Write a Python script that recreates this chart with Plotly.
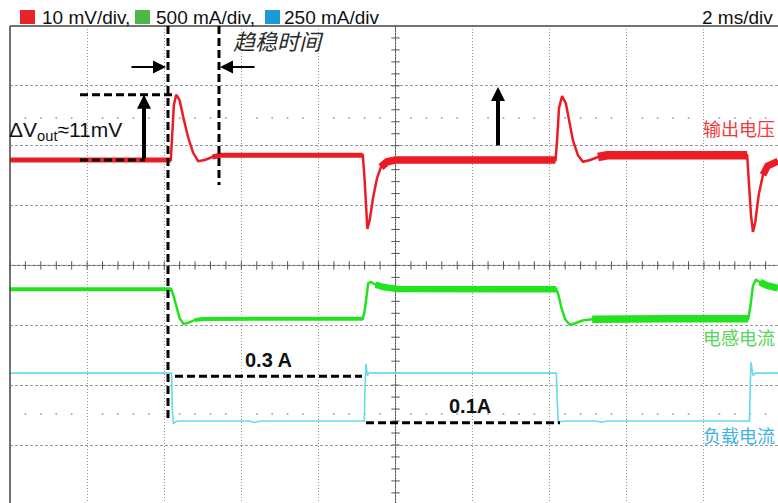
import plotly.graph_objects as go

# ---------------- channel data ----------------
# CH1: output voltage deviation (mV), 10 mV/div
t_out = [0.00, 4.17, 4.20, 4.25, 4.31, 4.40, 4.50, 4.62, 4.75, 4.88, 5.05, 5.25, 5.45,
         7.00, 9.15, 9.19, 9.24, 9.27, 9.33, 9.42, 9.52, 9.62, 9.78, 10.00, 12.00,
         14.15, 14.19, 14.24, 14.32, 14.42, 14.52, 14.60, 14.73, 14.86, 15.05, 15.25, 15.49,
         17.00, 19.12, 19.16, 19.22, 19.27, 19.33, 19.42, 19.53, 19.65, 19.92]
v_out = [0.0, 0.0, 3.3, 9.2, 10.9, 10.0, 7.0, 3.8, 1.2, -0.2, 0.0, 0.5, 0.8,
         0.8, 0.8, -2.5, -9.2, -11.5, -10.0, -6.2, -3.0, -1.2, -0.3, 0.0, 0.0,
         0.0, 3.3, 8.7, 10.7, 9.4, 6.0, 3.3, 0.8, -0.3, 0.0, 0.5, 0.8,
         0.8, 0.8, -3.3, -9.2, -12.0, -10.4, -5.8, -2.5, -1.0, -0.2]

# CH2: inductor current (A), 500 mA/div
t_il = [0.00, 4.18, 4.22, 4.30, 4.40, 4.50, 4.62, 4.80, 5.00, 7.00, 9.15, 9.20, 9.29,
        9.36, 9.48, 9.68, 10.04, 12.00, 14.17, 14.22, 14.30, 14.40, 14.52, 14.65, 14.85,
        15.10, 15.50, 17.00, 19.15, 19.20, 19.27, 19.35, 19.45, 19.65, 19.92]
i_il = [0.30, 0.30, 0.27, 0.17, 0.06, 0.012, 0.02, 0.045, 0.053, 0.055, 0.055, 0.12, 0.35,
        0.362, 0.34, 0.32, 0.303, 0.30, 0.30, 0.26, 0.15, 0.05, 0.005, 0.015, 0.04,
        0.05, 0.053, 0.055, 0.055, 0.15, 0.33, 0.38, 0.36, 0.33, 0.31]

# CH3: load current (A), 250 mA/div
t_load = [0.00, 4.19, 4.21, 4.24, 4.30, 4.45, 6.20, 6.35, 6.50, 9.19, 9.21, 9.23, 9.27,
          9.32, 9.40, 14.17, 14.19, 14.22, 14.27, 14.45, 15.20, 15.35, 15.50, 19.18,
          19.20, 19.22, 19.27, 19.33, 19.92]
i_load = [0.30, 0.30, 0.15, 0.088, 0.098, 0.100, 0.100, 0.094, 0.100, 0.100, 0.25, 0.34, 0.29,
          0.303, 0.30, 0.30, 0.20, 0.09, 0.098, 0.100, 0.100, 0.095, 0.100, 0.100,
          0.25, 0.345, 0.29, 0.30, 0.30]

HEADER = ["10 mV/div,", "500 mA/div,", "250 mA/div"]
TIMEBASE = "2 ms/div"
STEP_HIGH = 0.3   # A
STEP_LOW = 0.1    # A
DV_LABEL = 11     # mV

# ---------------- screen geometry ----------------
W, H = 778, 503
L, T = 10, 26
X_MAX = 19.92           # ms visible (2 ms/div)
Y_MIN, Y_MAX = 0.031, 8  # divisions
PX_PER_MS = (W - L) / X_MAX
PX_PER_DIV = (H - T) / (Y_MAX - Y_MIN)

# channel ground positions (div) and scales (unit/div)
OUT_ZERO, OUT_SCALE = 5.761, 10.0
IL_ZERO, IL_SCALE = 3.0, 0.5
LOAD_ZERO, LOAD_SCALE = 1.0, 0.25


def to_div(vals, zero, scale):
    return [zero + v / scale for v in vals]


def tx(xp):  # screen x -> ms
    return (xp - L) / PX_PER_MS


def dy(yp):  # screen y -> div
    return Y_MAX - (yp - T) / PX_PER_DIV


def px(xp):
    return (xp - L) / (W - L)


def py(yp):
    return (H - yp) / (H - T)


RED = "#ec1c24"
GREEN = "#22e41e"
CYAN = "#66dbe9"

fig = go.Figure()

# graticule: centre cross with minor ticks, and dotted marker rows
ticks_x = [i * 0.4 for i in range(int(X_MAX / 0.4) + 1)]
ticks_y = [i * 0.2 for i in range(1, 40)]
fig.add_trace(go.Scatter(x=ticks_x, y=[4] * len(ticks_x), mode="markers",
                         marker=dict(symbol="line-ns", size=6, line=dict(width=1, color="#555")),
                         hoverinfo="skip", showlegend=False))
fig.add_trace(go.Scatter(x=[10] * len(ticks_y), y=ticks_y, mode="markers",
                         marker=dict(symbol="line-ew", size=6, line=dict(width=1, color="#555")),
                         hoverinfo="skip", showlegend=False))
dots_x = [v for i, v in enumerate(ticks_x) if i % 5 != 0]
for row in (dy(118), dy(414)):
    fig.add_trace(go.Scatter(x=dots_x, y=[row] * len(dots_x), mode="markers",
                             marker=dict(symbol="circle", size=2, color="#aaa"),
                             hoverinfo="skip", showlegend=False))


def add_channel(t, y, color, width, bands):
    fig.add_trace(go.Scatter(x=t, y=y, mode="lines", line=dict(color=color, width=width),
                             hoverinfo="skip", showlegend=False))
    # switching-noise band on the steady-state stretches
    for t0, t1, w in bands:
        sx = [a for a in t if t0 <= a <= t1]
        sy = [b for a, b in zip(t, y) if t0 <= a <= t1]
        fig.add_trace(go.Scatter(x=sx, y=sy, mode="lines", line=dict(color=color, width=w),
                                 hoverinfo="skip", showlegend=False))


add_channel(t_load, to_div(i_load, LOAD_ZERO, LOAD_SCALE), CYAN, 1.6, [])
add_channel(t_il, to_div(i_il, IL_ZERO, IL_SCALE), GREEN, 2.5,
            [(0, 4.18, 4), (4.8, 9.15, 4), (9.48, 14.17, 6.5),
             (15.1, 19.15, 7.5), (19.45, 19.92, 7)])
add_channel(t_out, to_div(v_out, OUT_ZERO, OUT_SCALE), RED, 2.5,
            [(0, 4.17, 5), (5.25, 9.15, 5), (9.62, 14.15, 7.5),
             (15.25, 19.12, 8.5), (19.53, 19.92, 7)])

shapes = []
# frame and centre lines
shapes.append(dict(type="line", xref="paper", yref="paper", x0=0, x1=1, y0=1, y1=1,
                   line=dict(color="#444", width=1.5)))
shapes.append(dict(type="line", xref="paper", yref="paper", x0=0, x1=0, y0=0, y1=1,
                   line=dict(color="#444", width=1.5)))
shapes.append(dict(type="line", xref="x", yref="y", x0=0, x1=X_MAX, y0=4, y1=4,
                   line=dict(color="#555", width=1), layer="below"))
shapes.append(dict(type="line", xref="x", yref="y", x0=10, x1=10, y0=Y_MIN, y1=Y_MAX,
                   line=dict(color="#555", width=1), layer="below"))

DASH = dict(color="black", width=3, dash="8px,4px")
peak_div = OUT_ZERO + max(v_out[:12]) / OUT_SCALE
base_div = OUT_ZERO
shapes += [
    dict(type="line", xref="x", yref="y", x0=tx(168), x1=tx(168), y0=Y_MAX, y1=dy(420), line=DASH),
    dict(type="line", xref="x", yref="y", x0=tx(219), x1=tx(219), y0=Y_MAX, y1=dy(185), line=DASH),
    dict(type="line", xref="x", yref="y", x0=tx(80), x1=tx(176), y0=peak_div, y1=peak_div, line=DASH),
    dict(type="line", xref="x", yref="y", x0=tx(80), x1=tx(145), y0=base_div, y1=base_div, line=DASH),
    dict(type="line", xref="x", yref="y", x0=tx(175), x1=tx(362),
         y0=LOAD_ZERO + STEP_HIGH / LOAD_SCALE - 0.05, y1=LOAD_ZERO + STEP_HIGH / LOAD_SCALE - 0.05, line=DASH),
    dict(type="line", xref="x", yref="y", x0=tx(366), x1=tx(560),
         y0=LOAD_ZERO + STEP_LOW / LOAD_SCALE - 0.03, y1=LOAD_ZERO + STEP_LOW / LOAD_SCALE - 0.03, line=DASH),
]

# header colour keys
for x0, col in ((20, "#e8242b"), (135, "#4cb848"), (265, "#1b9ad7")):
    shapes.append(dict(type="rect", xref="paper", yref="paper", x0=px(x0), x1=px(x0 + 15),
                       y0=py(24), y1=py(10), fillcolor=col, line=dict(width=0)))

SANS = "Liberation Sans, Arial, sans-serif"
CJK = "Noto Sans CJK SC"
ann = []
for x0, txt in ((40, HEADER[0]), (154, HEADER[1]), (282, HEADER[2])):
    ann.append(dict(xref="paper", yref="paper", x=px(x0), y=py(17), xanchor="left", yanchor="middle",
                    text=txt, showarrow=False, font=dict(family=SANS, size=19, color="#111")))
ann.append(dict(xref="paper", yref="paper", x=px(775), y=py(17), xanchor="right", yanchor="middle",
                text=TIMEBASE, showarrow=False, font=dict(family=SANS, size=19, color="#111")))
ann.append(dict(xref="paper", yref="paper", x=px(231), y=py(40), xanchor="left", yanchor="middle",
                text="<i>趋稳时间</i>", showarrow=False, font=dict(family=CJK, size=22, color="#2a2a2a")))
ann.append(dict(xref="paper", yref="paper", x=px(7), y=py(131), xanchor="left", yanchor="middle",
                text="ΔV<sub>out</sub>≈%dmV" % DV_LABEL, showarrow=False,
                font=dict(family=SANS, size=21, color="#111")))
for yc, txt, col in ((128, "输出电压", "#f03a3a"), (337, "电感电流", "#58d458"), (435, "负载电流", "#3fb2e4")):
    ann.append(dict(xref="paper", yref="paper", x=px(777), y=py(yc), xanchor="right", yanchor="middle",
                    text=txt, showarrow=False, font=dict(family=CJK, size=18, color=col)))
ann.append(dict(xref="paper", yref="paper", x=px(268), y=py(360), xanchor="center", yanchor="middle",
                text="<b>%.1f A</b>" % STEP_HIGH, showarrow=False, font=dict(family=SANS, size=20, color="#111")))
ann.append(dict(xref="paper", yref="paper", x=px(470), y=py(406), xanchor="center", yanchor="middle",
                text="<b>%.1fA</b>" % STEP_LOW, showarrow=False, font=dict(family=SANS, size=20, color="#111")))

# arrows
def arrow(x, y, ax, ay, w, size):
    return dict(xref="x", yref="y", axref="x", ayref="y", x=x, y=y, ax=ax, ay=ay, text="",
                showarrow=True, arrowhead=2, arrowwidth=w, arrowsize=size, arrowcolor="black", standoff=0)


ann += [
    arrow(tx(144), peak_div, tx(144), base_div, 4, 0.7),
    arrow(tx(498), dy(87), tx(498), dy(147), 4, 0.7),
    arrow(tx(166), dy(67), tx(130), dy(67), 2, 1.3),
    arrow(tx(220), dy(67), tx(256), dy(67), 2, 1.3),
]

fig.update_layout(
    width=W, height=H,
    margin=dict(l=L, r=0, t=T, b=0),
    paper_bgcolor="white", plot_bgcolor="white",
    shapes=shapes, annotations=ann, showlegend=False,
    xaxis=dict(range=[0, X_MAX], dtick=2, tick0=0, showgrid=True, gridcolor="#999",
               griddash="1px,2px", gridwidth=1, showticklabels=False, ticks="", zeroline=False,
               showline=False, fixedrange=True),
    yaxis=dict(range=[Y_MIN, Y_MAX], dtick=1, tick0=0, showgrid=True, gridcolor="#999",
               griddash="3px,2px", gridwidth=1, showticklabels=False, ticks="", zeroline=False,
               showline=False, fixedrange=True),
)

fig.write_html("out.html", config={"displayModeBar": False})
